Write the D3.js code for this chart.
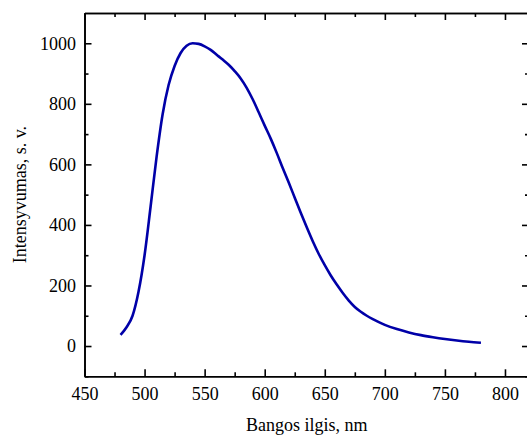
<!DOCTYPE html>
<meta charset="utf-8">
<style>
body { margin: 0; background: #fff; }
svg { display: block; font-family: "Liberation Serif", "Times New Roman", serif; }
.axis path, .axis line { stroke: #000; stroke-width: 1.6px; }
.axis text { font-family: "Liberation Serif", "Times New Roman", serif; font-size: 18px; fill: #000; }
</style>
<svg width="527" height="439"></svg>
<script src="https://d3js.org/d3.v7.min.js"></script>
<script>

// wavelength (nm) and intensity (a.u.)
var wavelength = [480, 485, 490, 495, 500, 505, 510, 515, 520, 525, 530, 535, 540, 545, 550,
    555, 560, 565, 570, 575, 580, 585, 590, 595, 600, 605, 610, 615, 620, 625, 630, 635,
    640, 645, 650, 655, 660, 665, 670, 675, 680, 685, 690, 695, 700, 710, 720, 730, 740,
    750, 760, 770, 780];
var intensity = [37, 62, 100, 180, 300, 460, 625, 765, 862, 925, 968, 992, 1000, 998, 990,
    978, 962, 946, 929, 908, 884, 853, 815, 772, 728, 685, 638, 588, 540, 490, 440, 392,
    346, 304, 267, 233, 203, 175, 150, 129, 113, 100, 89, 79, 70, 56, 45, 36, 29,
    23, 18, 14, 11];

var xTicks = [450, 500, 550, 600, 650, 700, 750, 800],
    yTicks = [0, 200, 400, 600, 800, 1000];

var svg = d3.select("svg"),
    mLeft = 84.5, mRight = 529, mTop = 13, mBottom = 376.3;

var x = d3.scaleLinear().domain([450, 820]).range([mLeft, mRight]);
var y = d3.scaleLinear().domain([-100, 1100]).range([mBottom, mTop]);

var xMinor = d3.range(475, 820, 50),
    yMinor = d3.range(-100, 1100, 200);

// minor ticks
svg.append("g").attr("class", "axis").attr("transform", "translate(0," + mBottom + ")")
    .call(d3.axisBottom(x).tickValues(xMinor).tickSize(-4).tickSizeOuter(0).tickFormat(""));
svg.append("g").attr("class", "axis").attr("transform", "translate(0," + mTop + ")")
    .call(d3.axisTop(x).tickValues(xMinor).tickSize(-4).tickSizeOuter(0).tickFormat(""));
svg.append("g").attr("class", "axis").attr("transform", "translate(" + mLeft + ",0)")
    .call(d3.axisLeft(y).tickValues(yMinor).tickSize(-4).tickSizeOuter(0).tickFormat(""));
svg.append("g").attr("class", "axis").attr("transform", "translate(" + mRight + ",0)")
    .call(d3.axisRight(y).tickValues(yMinor).tickSize(-4).tickSizeOuter(0).tickFormat(""));

// major ticks
svg.append("g").attr("class", "axis").attr("transform", "translate(0," + mBottom + ")")
    .call(d3.axisBottom(x).tickValues(xTicks).tickSize(-7).tickSizeOuter(0).tickPadding(10.5));
svg.append("g").attr("class", "axis").attr("transform", "translate(0," + mTop + ")")
    .call(d3.axisTop(x).tickValues(xTicks).tickSize(-7).tickSizeOuter(0).tickFormat(""));
svg.append("g").attr("class", "axis").attr("transform", "translate(" + mLeft + ",0)")
    .call(d3.axisLeft(y).tickValues(yTicks).tickSize(-7).tickSizeOuter(0).tickPadding(8.5)
        .tickFormat(d3.format("d")));
svg.append("g").attr("class", "axis").attr("transform", "translate(" + mRight + ",0)")
    .call(d3.axisRight(y).tickValues(yTicks).tickSize(-7).tickSizeOuter(0).tickFormat(""));

var line = d3.line()
    .x(function(d, i) { return x(wavelength[i]); })
    .y(function(d) { return y(d); })
    .curve(d3.curveMonotoneX);

svg.append("path")
    .datum(intensity)
    .attr("fill", "none")
    .attr("stroke", "#0000a8")
    .attr("stroke-width", 2.6)
    .attr("stroke-linejoin", "round")
    .attr("d", line);

svg.append("text")
    .attr("x", (mLeft + mRight) / 2)
    .attr("y", 431)
    .attr("text-anchor", "middle")
    .attr("font-size", 18)
    .text("Bangos ilgis, nm");

svg.append("text")
    .attr("transform", "translate(26," + (mTop + mBottom) / 2 + ") rotate(-90)")
    .attr("text-anchor", "middle")
    .attr("font-size", 18)
    .text("Intensyvumas, s. v.");

</script>
